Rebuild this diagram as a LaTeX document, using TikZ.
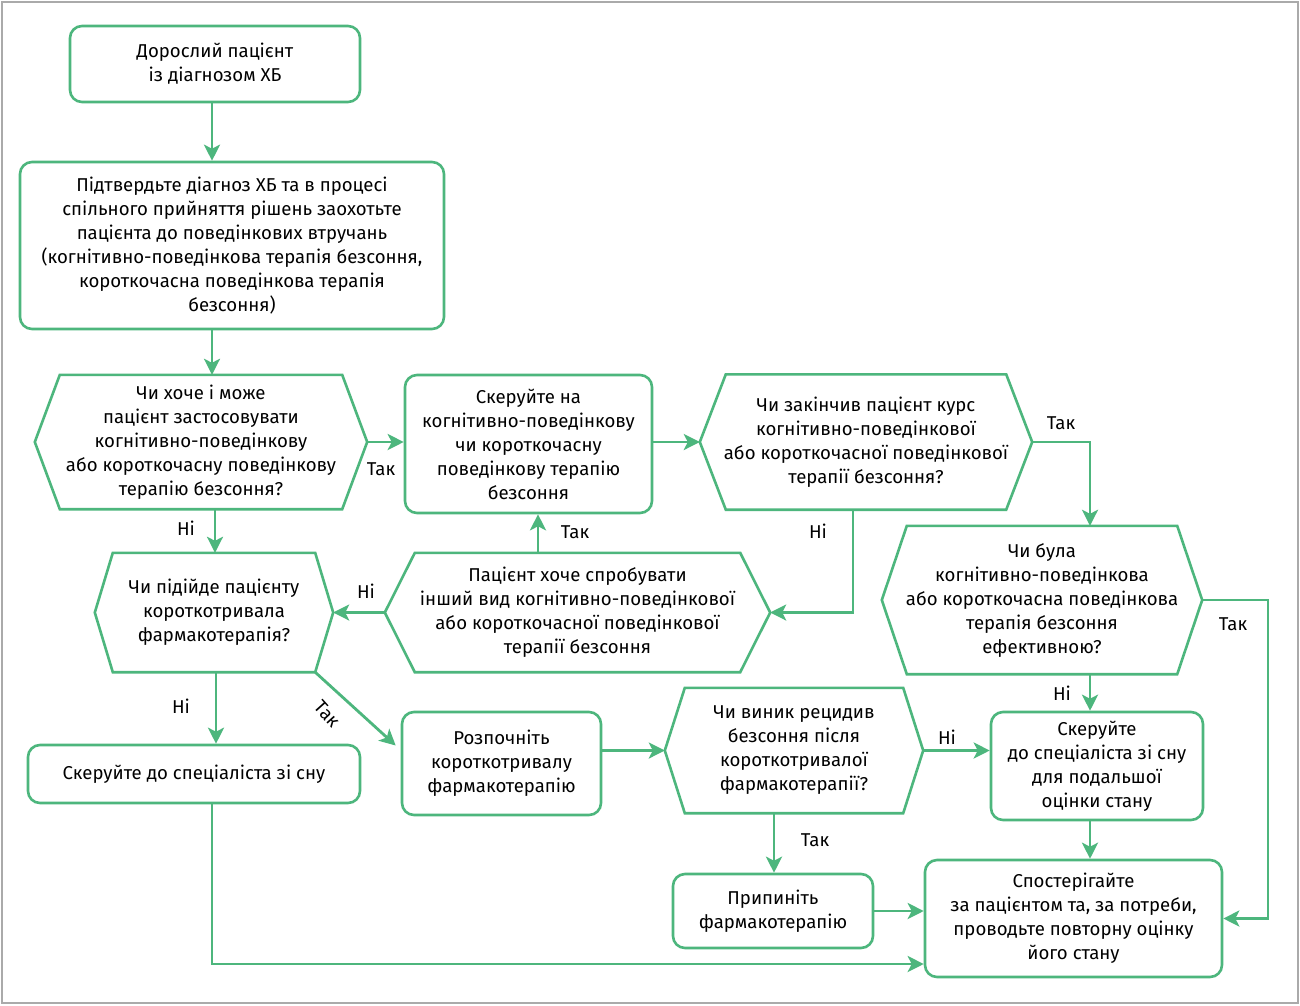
\documentclass[tikz,border=0pt]{standalone}
\usepackage{fontspec}
\setmainfont{Fira Sans}
\usetikzlibrary{arrows.meta,calc}
\definecolor{grn}{RGB}{77,182,125}
\definecolor{frm}{RGB}{170,170,170}
\newcommand{\hexdraw}[2]{%
  \draw[hexline] (#1.west) -- ([xshift=#2]#1.north west) -- ([xshift=-#2]#1.north east) -- (#1.east) -- ([xshift=-#2]#1.south east) -- ([xshift=#2]#1.south west) -- cycle;}
\begin{document}
\begin{tikzpicture}[x=1pt,y=-1pt,
  every node/.style={font=\fontsize{18.6}{24}\selectfont, text=black},
  box/.style={draw=grn, line width=2.6pt, rounded corners=12pt, align=center, inner sep=0pt, fill=white},
  hexnode/.style={align=center, inner sep=0pt},
  hexline/.style={draw=grn, line width=2.6pt, line join=miter},
  arr/.style={draw=grn, line width=2.8pt, -{Stealth[length=16pt,width=16pt,inset=4pt]}},
  lbl/.style={inner sep=0pt}]
\useasboundingbox (0,0) rectangle (1300,1005);
\fill[white] (0,0) rectangle (1300,1005);
\draw[frm, line width=1.3pt] (2,2) rectangle (1298,1003);

% boxes
\node[box, minimum width=290pt, minimum height=76pt] (start) at (215,64) {Дорослий пацієнт\\із діагнозом ХБ};
\node[box, minimum width=424pt, minimum height=167pt] (confirm) at (232,245.5) {Підтвердьте діагноз ХБ та в процесі\\спільного прийняття рішень заохотьте\\пацієнта до поведінкових втручань\\(когнітивно-поведінкова терапія безсоння,\\короткочасна поведінкова терапія\\безсоння)};
\node[box, minimum width=247pt, minimum height=138pt] (refer) at (528.5,444) {Скеруйте на\\когнітивно-поведінкову\\чи короткочасну\\поведінкову терапію\\безсоння};
\node[box, minimum width=332pt, minimum height=58pt] (specialist) at (194,774) {Скеруйте до спеціаліста зі сну};
\node[box, minimum width=199pt, minimum height=103pt] (pharm) at (501.5,763.5) {Розпочніть\\короткотривалу\\фармакотерапію};
\node[box, minimum width=212pt, minimum height=108pt] (refspec) at (1097,766) {Скеруйте\\до спеціаліста зі сну\\для подальшої\\оцінки стану};
\node[box, minimum width=297pt, minimum height=117pt] (monitor) at (1073.5,918.5) {Спостерігайте\\за пацієнтом та, за потреби,\\проводьте повторну оцінку\\його стану};
\node[box, minimum width=200pt, minimum height=74pt] (stop) at (773,911) {Припиніть\\фармакотерапію};

% hexagons
\node[hexnode, minimum width=332pt, minimum height=134pt] (d1) at (201,442) {Чи хоче і може\\пацієнт застосовувати\\когнітивно-поведінкову\\або короткочасну поведінкову\\терапію безсоння?};
\hexdraw{d1}{25pt}
\node[hexnode, minimum width=332pt, minimum height=135pt] (d2) at (866,442) {Чи закінчив пацієнт курс\\когнітивно-поведінкової\\або короткочасної поведінкової\\терапії безсоння?};
\hexdraw{d2}{26pt}
\node[hexnode, minimum width=320pt, minimum height=148pt] (d3) at (1042,600) {Чи була\\когнітивно-поведінкова\\або короткочасна поведінкова\\терапія безсоння\\ефективною?};
\hexdraw{d3}{25pt}
\node[hexnode, minimum width=385pt, minimum height=119pt] (try) at (577.5,612.5) {Пацієнт хоче спробувати\\інший вид когнітивно-поведінкової\\або короткочасної поведінкової\\терапії безсоння};
\hexdraw{try}{30pt}
\node[hexnode, minimum width=238pt, minimum height=119pt] (d4) at (214,612.5) {Чи підійде пацієнту\\короткотривала\\фармакотерапія?};
\hexdraw{d4}{18pt}
\node[hexnode, minimum width=258pt, minimum height=125pt] (d5) at (794,750.5) {Чи виник рецидив\\безсоння після\\короткотривалої\\фармакотерапії?};
\hexdraw{d5}{20pt}

% connectors
\draw[arr] (start.south -| 212,0) -- (confirm.north -| 212,0);
\draw[arr] (confirm.south -| 212,0) -- (d1.north -| 212,0);
\draw[arr] (d1.east) -- (d1.east -| refer.west);
\draw[arr] (refer.east |- d2.west) -- (d2.west);
\draw[arr] (d2.east) -| (d3.north -| 1090,0);
\draw[arr] (d3.east) -- (d3.east -| 1268,0) |- (monitor.east);
\draw[arr] (d3.south -| 1090,0) -- (refspec.north -| 1090,0);
\draw[arr] (d2.south -| 853,0) |- (try.east);
\draw[arr] (try.north -| 538,0) -- (refer.south -| 538,0);
\draw[arr] (try.west) -- (d4.east);
\draw[arr] (d1.south -| 215,0) -- (d4.north -| 215,0);
\draw[arr] (d4.south -| 216,0) -- (specialist.north -| 216,0);
\coordinate (dg1) at ([xshift=-18pt]d4.south east);
\coordinate (dg2) at ([xshift=-5pt,yshift=18pt]pharm.west);
\draw[arr] (dg1) -- (dg2);
\coordinate (mw) at ([yshift=-45.5pt]monitor.west);
\draw[arr] (specialist.south -| 212,0) |- (mw);
\draw[arr] (pharm.east |- d5.west) -- (d5.west);
\draw[arr] (d5.east) -- (d5.east -| refspec.west);
\draw[arr] (d5.south -| 774,0) -- (stop.north -| 774,0);
\draw[arr] (refspec.south -| 1090,0) -- (monitor.north -| 1090,0);
\draw[arr] (stop.east) -- (stop.east -| monitor.west);

% labels
\node[lbl] (l1) at (381,469) {Так};
\node[lbl] (l2) at (1061,423) {Так};
\node[lbl] (l3) at (1233,624) {Так};
\node[lbl] (l4) at (1062,693) {Ні};
\node[lbl] (l5) at (818,531) {Ні};
\node[lbl] (l6) at (575,532) {Так};
\node[lbl] (l7) at (366,591) {Ні};
\node[lbl] (l8) at (186,528) {Ні};
\node[lbl] (l9) at (181,706) {Ні};
\node[lbl, rotate=-48] (l10) at (327,714) {Так};
\node[lbl] (l11) at (947,737) {Ні};
\node[lbl] (l12) at (815,840) {Так};
\end{tikzpicture}
\end{document}
